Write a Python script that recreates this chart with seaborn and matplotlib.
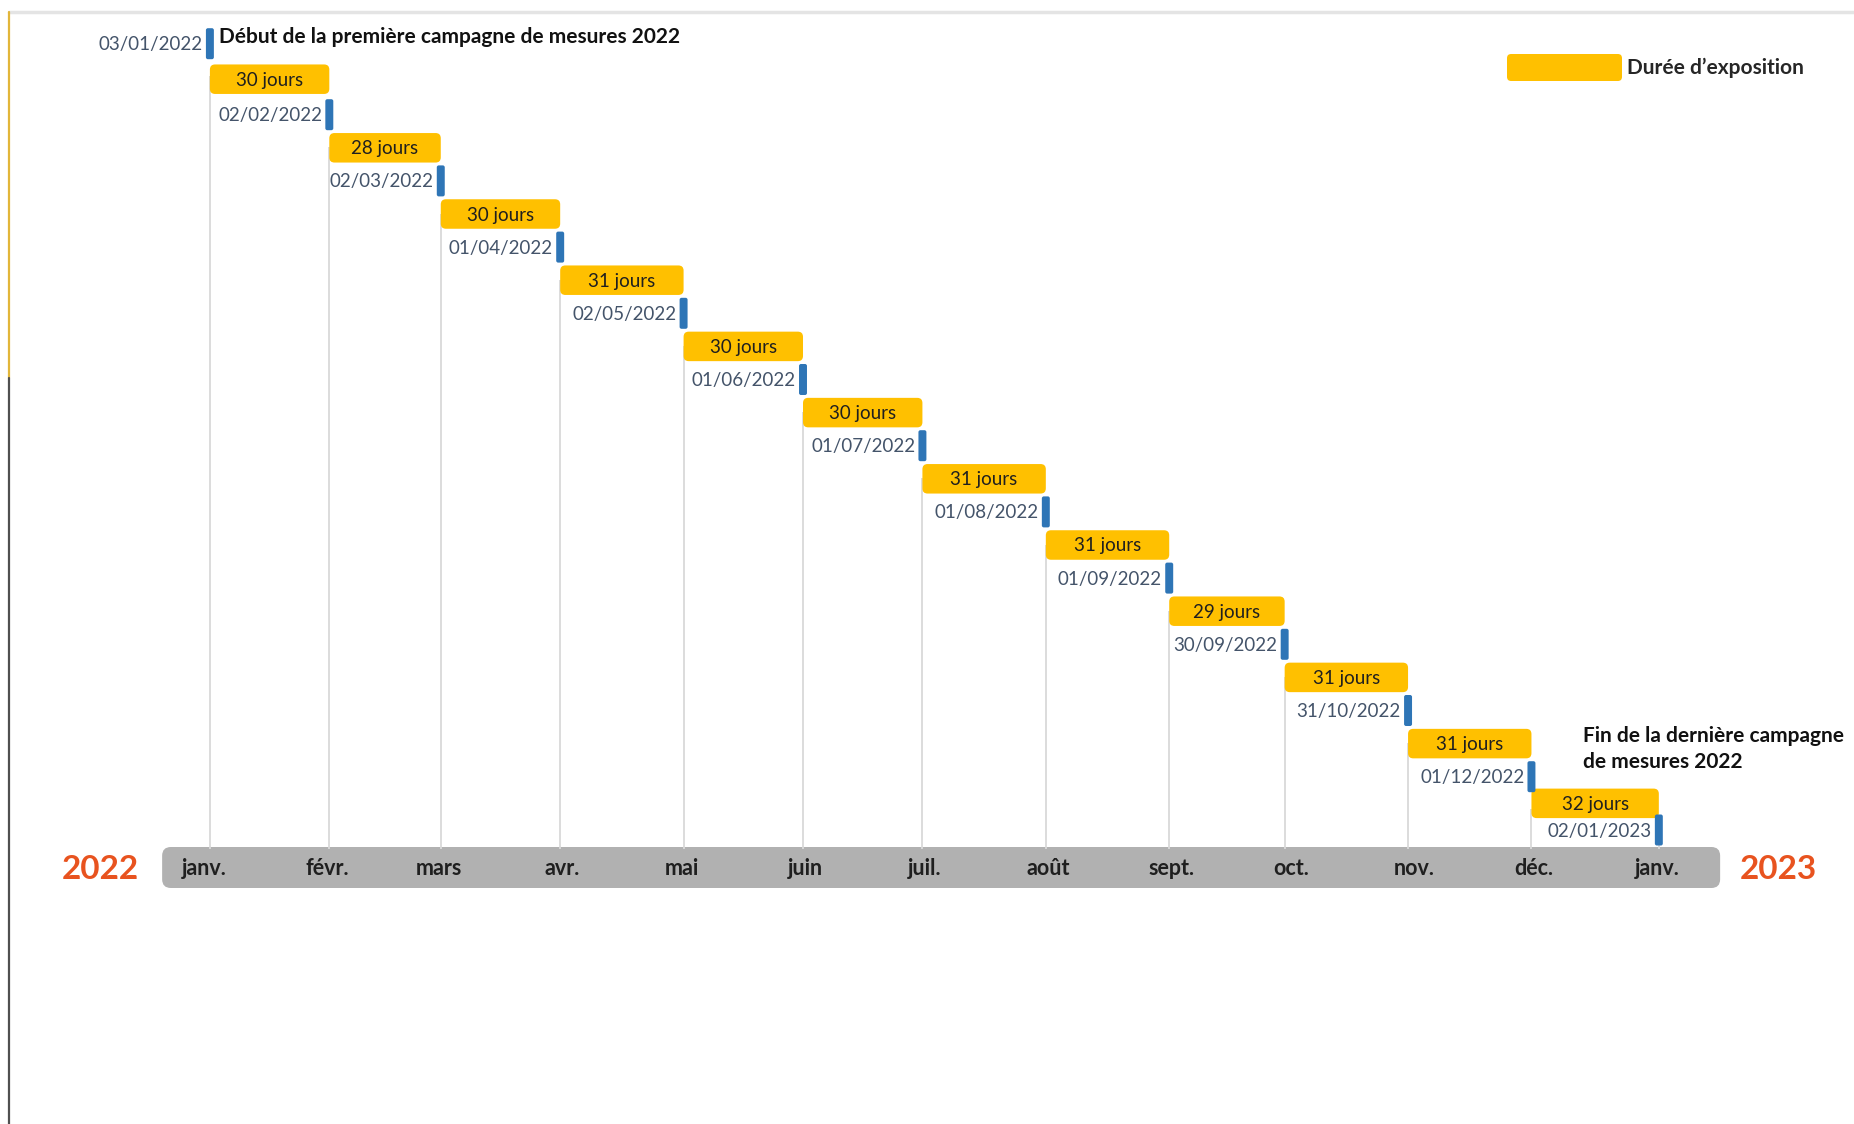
import datetime as dt
import numpy as np
import pandas as pd
import matplotlib
matplotlib.use("Agg")
import matplotlib.pyplot as plt
import seaborn as sns
from matplotlib.patches import Patch, FancyBboxPatch
from matplotlib.lines import Line2D
from matplotlib.legend_handler import HandlerPatch

# ---------------- data ----------------
milestone_labels = ["03/01/2022", "02/02/2022", "02/03/2022", "01/04/2022",
                    "02/05/2022", "01/06/2022", "01/07/2022", "01/08/2022",
                    "01/09/2022", "30/09/2022", "31/10/2022", "01/12/2022",
                    "02/01/2023"]
durations = [30, 28, 30, 31, 30, 30, 31, 31, 29, 31, 31, 32]
duration_labels = ["30 jours", "28 jours", "30 jours", "31 jours", "30 jours",
                   "30 jours", "31 jours", "31 jours", "29 jours", "31 jours",
                   "31 jours", "32 jours"]
month_labels = ["janv.", "févr.", "mars", "avr.", "mai", "juin", "juil.",
                "août", "sept.", "oct.", "nov.", "déc.", "janv."]
month_starts = ["01/01/2022", "01/02/2022", "01/03/2022", "01/04/2022",
                "01/05/2022", "01/06/2022", "01/07/2022", "01/08/2022",
                "01/09/2022", "01/10/2022", "01/11/2022", "01/12/2022",
                "01/01/2023"]
year_labels = ["2022", "2023"]
legend_label = "Durée d’exposition"
start_note = "Début de la première campagne de mesures 2022"
end_note = "Fin de la dernière campagne\nde mesures 2022"

origin = dt.datetime(2022, 1, 1)
def to_day(s):
    return (dt.datetime.strptime(s, "%d/%m/%Y") - origin).days

# ---------------- layout (vertical, in figure pixels) ----------------
n = len(milestone_labels)
row_y = np.array([43.7] + [114.7 + 66.2 * (i - 1) for i in range(1, n - 1)] + [830.0])
BAR_H, MARK_H = 29.5, 31.0
band_top, band_h = 847.0, 41.0
band_mid = band_top + band_h / 2

df_m = pd.DataFrame({"label": milestone_labels})
df_m["day"] = df_m["label"].map(to_day)
df_m["y"] = row_y

df_b = pd.DataFrame({"start": df_m["day"].iloc[:-1].values,
                     "dur": durations, "label": duration_labels})
df_b["y"] = (row_y[:-1] + row_y[1:]) / 2

month_days = [to_day(s) for s in month_starts]

# ---------------- style ----------------
sns.set_theme(style="white")
plt.rcParams["font.family"] = ["Lato", "DejaVu Sans"]

GOLD = "#FFC000"
BLUE = "#2E75B6"
DATE_C = "#44546A"
DARK = "#1F1F1F"
ORANGE = "#E8531F"
PX_PER_DAY = 3.9806

fig = plt.figure(figsize=(18.54, 11.24), dpi=100)
ax = fig.add_axes([0, 0, 1, 1])
ax.set_xlim(-50.73, 415.03)
ax.set_ylim(1124, 0)
ax.axis("off")

# guide lines
ymins = np.minimum(df_m["y"].values + BAR_H / 2 + 18, band_top)
ymins[-1] = df_m["y"].values[-1]
ax.vlines(df_m["day"], ymins, band_top + 2, color="#D9D9D9", lw=1.3, zorder=1)

# grey month band
band = FancyBboxPatch((-10.0, band_top), 391.4, band_h,
                      boxstyle="round,pad=0,rounding_size=2.2",
                      mutation_aspect=PX_PER_DAY, facecolor="#B1B1B1",
                      edgecolor="none", zorder=0.5)
ax.add_patch(band)

def round_bars(container, rounding_days):
    for rect in container.patches:
        x, y = rect.get_x(), rect.get_y()
        w, h = rect.get_width(), rect.get_height()
        fb = FancyBboxPatch((x, y), w, h,
                            boxstyle=f"round,pad=0,rounding_size={rounding_days}",
                            mutation_aspect=PX_PER_DAY,
                            facecolor=rect.get_facecolor(), edgecolor="none",
                            zorder=rect.get_zorder())
        ax.add_patch(fb)
        rect.set_visible(False)

# exposure bars
bars = ax.barh(df_b["y"], df_b["dur"], left=df_b["start"], height=BAR_H,
               color=GOLD, zorder=3)
round_bars(bars, 1.3)
for _, r in df_b.iterrows():
    ax.text(r["start"] + r["dur"] / 2, r["y"] + 1, r["label"], ha="center",
            va="center", fontsize=13.5, color=DARK, zorder=4)

# milestone markers
marks = ax.barh(df_m["y"], 2.0, left=df_m["day"] - 1.0, height=MARK_H,
                color=BLUE, zorder=3)
round_bars(marks, 0.5)
for _, r in df_m.iterrows():
    ax.text(r["day"] - 1.8, r["y"] + 1, r["label"], ha="right",
            va="center", fontsize=13.5, color=DATE_C, zorder=4)

# month labels
for d, lab in zip(month_days, month_labels):
    ax.text(d + 0.5, band_mid + 1, lab, ha="center", va="center", fontsize=15.5,
            fontweight="bold", color=DARK, zorder=4)

# year labels
ax.text(-25.5, band_mid + 2, year_labels[0], ha="center", va="center",
        fontsize=24, fontweight="bold", color=ORANGE)
ax.text(396.0, band_mid + 2, year_labels[1], ha="center", va="center",
        fontsize=24, fontweight="bold", color=ORANGE)

# notes
ax.text(df_m["day"].iloc[0] + 2.3, 37, start_note, ha="left", va="center",
        fontsize=15, fontweight="bold", color="#111111")
ax.text(347.0, 749, end_note, ha="left", va="center", fontsize=15,
        fontweight="bold", color="#111111", linespacing=1.4)

# legend
fs = 15
px = fs * 100 / 72

def rounded_patch(legend, orig_handle, xdescent, ydescent, width, height, fontsize):
    return FancyBboxPatch((-xdescent, -ydescent), width, height,
                          boxstyle="round,pad=0,rounding_size=3")

leg = ax.legend(handles=[Patch(facecolor=GOLD, edgecolor="none", label=legend_label)],
                loc="upper left", bbox_to_anchor=(1507 / 1854, 1 - 54 / 1124),
                bbox_transform=fig.transFigure, frameon=False,
                handlelength=115 / px, handleheight=(27 / px - 0.245) / 0.65,
                handletextpad=5 / px, borderpad=0, borderaxespad=0,
                handler_map={Patch: HandlerPatch(patch_func=rounded_patch)},
                prop={"weight": "bold", "size": fs})

# frame decorations
fig.add_artist(Line2D([9 / 1854, 1], [1 - 12 / 1124] * 2, color="#E4E4E4", lw=2.5))
fig.add_artist(Line2D([9 / 1854] * 2, [1 - 12 / 1124, 1 - 378 / 1124],
                      color="#E2B63A", lw=1.6))
fig.add_artist(Line2D([9 / 1854] * 2, [1 - 378 / 1124, 0],
                      color="#505050", lw=1.6))

fig.savefig("out.png", dpi=100, facecolor="white")
